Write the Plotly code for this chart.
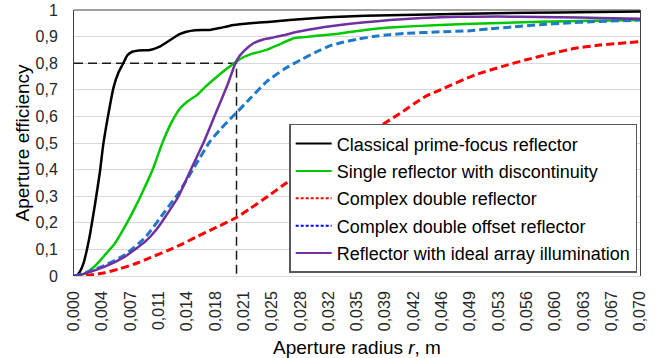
import plotly.graph_objects as go

# Aperture efficiency versus aperture radius for five reflector designs
r_classical = [0, 0.0003, 0.0008, 0.0012, 0.0016, 0.0020, 0.0026, 0.0032, 0.0036, 0.0042,
               0.0049, 0.0055, 0.0061, 0.0066, 0.0072, 0.0080, 0.0094, 0.0106, 0.0119, 0.0130,
               0.0139, 0.0150, 0.0168, 0.0180, 0.0193, 0.0205, 0.0218, 0.0240, 0.0267, 0.0300,
               0.0329, 0.0360, 0.0390, 0.0453, 0.0520, 0.0600, 0.0700]
eff_classical = [0, 0.0, 0.02, 0.05, 0.10, 0.16, 0.27, 0.39, 0.49, 0.60,
                 0.71, 0.765, 0.80, 0.83, 0.843, 0.848, 0.85, 0.862, 0.887, 0.908,
                 0.918, 0.924, 0.925, 0.932, 0.941, 0.946, 0.95, 0.955, 0.962, 0.97,
                 0.975, 0.978, 0.98, 0.984, 0.988, 0.991, 0.994]

r_single = [0, 0.0014, 0.0025, 0.0030, 0.0040, 0.0050, 0.0061, 0.0070, 0.0080, 0.0090,
            0.0098, 0.0108, 0.0119, 0.0131, 0.0142, 0.0152, 0.0162, 0.0172, 0.0185, 0.0197,
            0.0205, 0.0218, 0.0238, 0.0255, 0.0271, 0.0285, 0.0300, 0.0317, 0.0329, 0.0360,
            0.0390, 0.0453, 0.0515, 0.0576, 0.0640, 0.0700]
eff_single = [0, 0.01, 0.035, 0.05, 0.085, 0.12, 0.175, 0.225, 0.285, 0.35,
              0.405, 0.49, 0.568, 0.63, 0.66, 0.68, 0.71, 0.737, 0.77, 0.797,
              0.815, 0.833, 0.85, 0.872, 0.893, 0.898, 0.903, 0.908, 0.912, 0.925,
              0.934, 0.944, 0.95, 0.956, 0.96, 0.962]

r_double = [0, 0.0020, 0.0038, 0.0055, 0.0075, 0.0095, 0.0117, 0.0135, 0.0150, 0.0174,
            0.0201, 0.0218, 0.0240, 0.0259, 0.0280, 0.0300, 0.0320, 0.0340, 0.0360, 0.0378,
            0.0400, 0.0434, 0.0453, 0.0496, 0.0530, 0.0558, 0.0590, 0.0620, 0.0650, 0.0700]
eff_double = [0, 0.004, 0.012, 0.026, 0.045, 0.07, 0.097, 0.122, 0.145, 0.18,
              0.22, 0.254, 0.30, 0.342, 0.385, 0.425, 0.462, 0.498, 0.532, 0.563,
              0.605, 0.674, 0.70, 0.756, 0.788, 0.812, 0.836, 0.856, 0.868, 0.881]

r_offset = [0, 0.0014, 0.0038, 0.0063, 0.0088, 0.0113, 0.0129, 0.0154, 0.0168, 0.0182,
            0.0193, 0.0201, 0.0218, 0.0238, 0.0260, 0.0280, 0.0300, 0.0317, 0.0329, 0.0350,
            0.0370, 0.0390, 0.0411, 0.0453, 0.0490, 0.0514, 0.0545, 0.0576, 0.0610, 0.0640,
            0.0700]
eff_offset = [0, 0.012, 0.04, 0.08, 0.145, 0.245, 0.31, 0.436, 0.505, 0.555,
              0.59, 0.614, 0.668, 0.73, 0.778, 0.812, 0.843, 0.866, 0.876, 0.89,
              0.9, 0.907, 0.912, 0.918, 0.922, 0.929, 0.937, 0.945, 0.951, 0.956,
              0.962]

r_ideal = [0, 0.0014, 0.0038, 0.0063, 0.0088, 0.0102, 0.0113, 0.0129, 0.0146, 0.0160,
           0.0175, 0.0190, 0.0201, 0.0210, 0.0222, 0.0235, 0.0247, 0.0259, 0.0275, 0.0288,
           0.0310, 0.0329, 0.0360, 0.0391, 0.0420, 0.0453, 0.0500, 0.0550, 0.0600, 0.0650,
           0.0700]
eff_ideal = [0, 0.01, 0.035, 0.073, 0.129, 0.175, 0.223, 0.298, 0.41, 0.50,
             0.61, 0.72, 0.81, 0.845, 0.875, 0.89, 0.897, 0.905, 0.917, 0.925,
             0.936, 0.944, 0.954, 0.962, 0.968, 0.973, 0.975, 0.975, 0.973, 0.97,
             0.967]

# Design point marked by the dashed guide lines
r_design = 0.0201
eff_design = 0.8

series_names = [
    "Classical prime-focus reflector",
    "Single reflector with discontinuity",
    "Complex double reflector",
    "Complex double offset reflector",
    "Reflector with ideal array illumination",
]

x_tick_values = [0.0035 * i for i in range(21)]
x_tick_labels = ["0,000", "0,004", "0,007", "0,011", "0,014", "0,018", "0,021",
                 "0,025", "0,028", "0,032", "0,035", "0,039", "0,042", "0,046",
                 "0,049", "0,053", "0,056", "0,060", "0,063", "0,067", "0,070"]
y_tick_values = [i / 10 for i in range(11)]
y_tick_labels = ["0", "0,1", "0,2", "0,3", "0,4", "0,5", "0,6", "0,7", "0,8", "0,9", "1"]

FONT = "Liberation Sans, Arial, sans-serif"

fig = go.Figure()

# dashed guides to the design point
fig.add_trace(go.Scatter(
    x=[0, r_design, r_design], y=[eff_design, eff_design, 0],
    mode="lines", line=dict(color="#1a1a1a", width=1.5, dash="9px,5px"),
    showlegend=False, hoverinfo="skip"))

curves = [
    (r_classical, eff_classical, dict(color="#000000", width=2.5)),
    (r_single, eff_single, dict(color="#00C800", width=2.5)),
    (r_double, eff_double, dict(color="#FF0000", width=3, dash="8px,4px")),
    (r_offset, eff_offset, dict(color="#1F78C8", width=3, dash="8px,4px")),
    (r_ideal, eff_ideal, dict(color="#7030A0", width=2.5)),
]
for rx, ey, ln in curves:
    fig.add_trace(go.Scatter(x=rx, y=ey, mode="lines",
                             line=dict(shape="spline", smoothing=0.5, **ln),
                             showlegend=False))

# legend keys
legend_styles = [
    dict(color="#000000", width=2),
    dict(color="#00C800", width=2),
    dict(color="#FF0000", width=2, dash="3px,2px"),
    dict(color="#0000FF", width=2, dash="3px,2px"),
    dict(color="#7030A0", width=2),
]
for i, (name, ln) in enumerate(zip(series_names, legend_styles)):
    fig.add_trace(go.Scatter(x=[None], y=[None], mode="lines", name=name, line=ln,
                             legendgroup=f"g{i}", showlegend=True))

fig.update_layout(
    width=655, height=358, autosize=False,
    margin=dict(l=74, r=15, t=10, b=82),
    paper_bgcolor="white", plot_bgcolor="white",
    font=dict(family=FONT, color="#1a1a1a"),
    legend=dict(
        x=0.995, xanchor="right", y=0.012, yanchor="bottom",
        bgcolor="white", bordercolor="#595959", borderwidth=1.5,
        font=dict(size=18, family=FONT, color="#000000"),
        itemwidth=36, tracegroupgap=1,
    ),
    shapes=[dict(type="line", xref="paper", yref="paper", x0=0, x1=1, y0=1, y1=1,
                 line=dict(color="#404040", width=1))],
)

fig.update_xaxes(
    range=[0, 0.07], tickvals=x_tick_values, ticktext=x_tick_labels,
    tickangle=-90, tickfont=dict(size=16, color="#262626"),
    showgrid=False, zeroline=False, showline=False, ticks="",
    ticklabelstandoff=11, automargin=False,
    title=dict(text="Aperture radius <i>r</i>, m", font=dict(size=19, color="#000000"), standoff=16),
)
fig.update_yaxes(
    range=[0, 1], tickvals=y_tick_values, ticktext=y_tick_labels,
    tickfont=dict(size=16, color="#262626"),
    showgrid=True, gridcolor="#d9d9d9", gridwidth=1,
    zeroline=True, zerolinecolor="#d9d9d9", zerolinewidth=1,
    showline=True, mirror=True, linecolor="#404040", linewidth=1, ticks="",
    ticklabelstandoff=12, automargin=False,
    title=dict(text="Aperture efficiency", font=dict(size=19, color="#000000"), standoff=0),
)

fig.write_html("out.html")
